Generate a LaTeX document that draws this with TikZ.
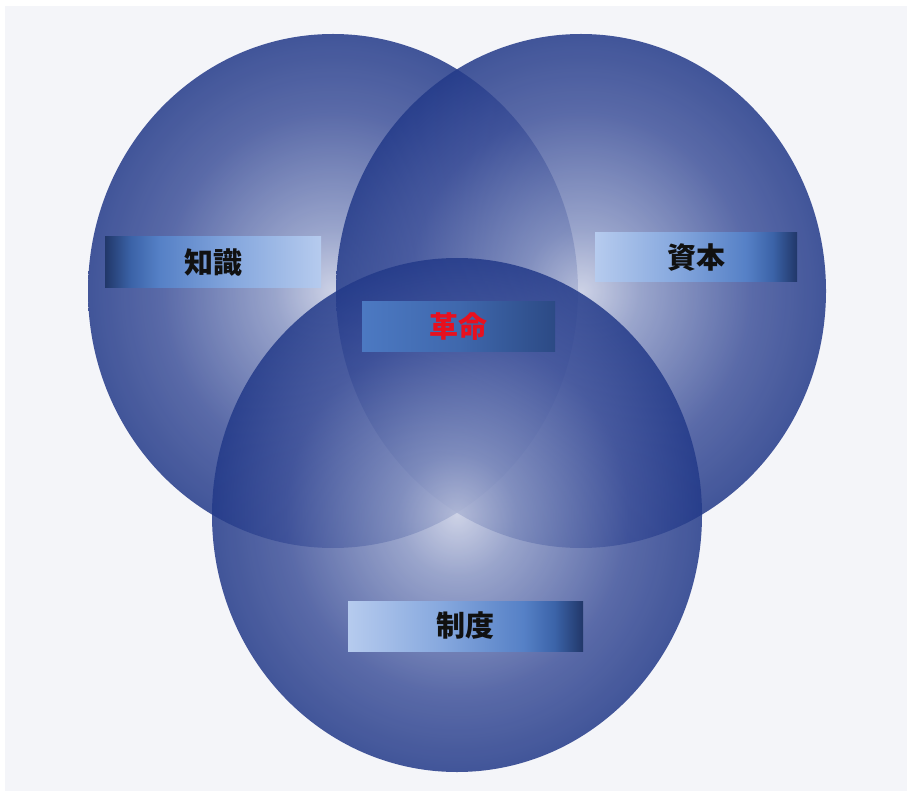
\documentclass[tikz,border=0pt]{standalone}
\usepackage{fontspec}
\newfontfamily\cjk{Noto Sans CJK JP}
\definecolor{panel}{RGB}{244,245,249}
\definecolor{vA}{RGB}{198,204,227}
\definecolor{vB}{RGB}{138,151,196}
\definecolor{vC}{RGB}{63,82,154}
\definecolor{vD}{RGB}{35,58,137}
\definecolor{bNavy}{RGB}{33,55,105}
\definecolor{bDeep}{RGB}{59,99,168}
\definecolor{bMid}{RGB}{85,128,198}
\definecolor{bSoft}{RGB}{134,168,222}
\definecolor{bLight}{RGB}{182,203,238}
\definecolor{rA}{RGB}{76,121,194}
\definecolor{rB}{RGB}{63,104,173}
\definecolor{rC}{RGB}{44,74,133}
\definecolor{labelred}{RGB}{232,16,30}
\definecolor{labelink}{RGB}{17,17,17}
\pgfdeclareradialshading{venn}{\pgfpoint{0bp}{0bp}}{color(0bp)=(vA); color(6bp)=(vB); color(17.5bp)=(vC); color(25bp)=(vD); color(50bp)=(vD)}
\pgfdeclarehorizontalshading{darkleft}{100bp}{color(0bp)=(bNavy); color(25bp)=(bNavy); color(31bp)=(bDeep); color(37.5bp)=(bMid); color(55bp)=(bSoft); color(75bp)=(bLight); color(100bp)=(bLight)}
\pgfdeclarehorizontalshading{darkright}{100bp}{color(0bp)=(bLight); color(25bp)=(bLight); color(45bp)=(bSoft); color(62.5bp)=(bMid); color(69bp)=(bDeep); color(75bp)=(bNavy); color(100bp)=(bNavy)}
\pgfdeclarehorizontalshading{centerbox}{100bp}{color(0bp)=(rA); color(25bp)=(rA); color(50bp)=(rB); color(75bp)=(rC); color(100bp)=(rC)}
\tikzset{
  vennset/.style={shading=venn, fill opacity=0.85},
  labelbox/.style={shade, inner sep=0pt, text=labelink, font=\cjk\bfseries\fontsize{29pt}{31pt}\selectfont},
}
\begin{document}
\begin{tikzpicture}[x=1pt,y=-1pt]
\useasboundingbox (0,0) rectangle (907,791);
\fill[white] (0,0) rectangle (907,791);
\fill[panel] (5,6) rectangle (907,791);
\shade[vennset] (333,291) ellipse [x radius=245pt, y radius=257pt];
\shade[vennset] (581,291) ellipse [x radius=245pt, y radius=257pt];
\shade[vennset] (457,515) ellipse [x radius=245pt, y radius=257pt];
\node[labelbox, shading=darkleft, minimum width=216pt, minimum height=51pt] (chishiki) at (213,262.5) {知識};
\node[labelbox, shading=darkright, minimum width=202pt, minimum height=49pt] (shihon) at (696,257.5) {資本};
\node[labelbox, shading=centerbox, minimum width=193pt, minimum height=49pt, text=labelred] (kakumei) at (458.5,326.5) {革命};
\node[labelbox, shading=darkright, minimum width=235pt, minimum height=50pt] (seido) at (465.5,626) {制度};
\end{tikzpicture}
\end{document}
